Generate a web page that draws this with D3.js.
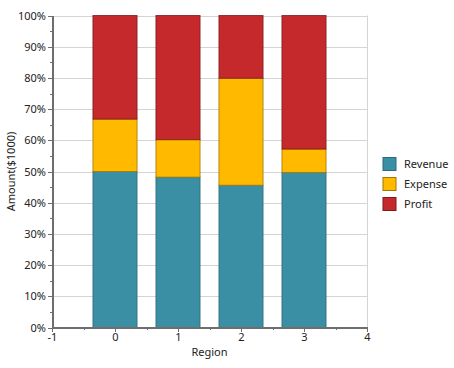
<!DOCTYPE html>
<html>
<head>
<meta charset="utf-8">
<script src="https://cdn.jsdelivr.net/npm/d3@7"></script>
<style>
  body { margin: 0; background: #fff; }
  svg text { font-family: "Noto Sans", "Open Sans", sans-serif; font-size: 11px; fill: #222; }
  .grid line { stroke: #d4d4d4; shape-rendering: crispEdges; }
  .grid path { display: none; }
  .axis path, .axis line { stroke: #6e6e6e; shape-rendering: crispEdges; }
</style>
</head>
<body>
<div id="chart"></div>
<script>
// Regions and series amounts ($1000), shown as percent stacks
var regions = [0, 1, 2, 3];
var seriesNames = ["Revenue", "Expense", "Profit"];
var revenue = [50.0, 48.2, 45.6, 49.7];
var expense = [16.8, 12.0, 34.3, 7.5];
var profit  = [33.2, 39.8, 20.1, 42.8];
var xTicks = [-1, 0, 1, 2, 3, 4];
var yTicks = [0, 0.1, 0.2, 0.3, 0.4, 0.5, 0.6, 0.7, 0.8, 0.9, 1.0];

var fills   = {Revenue: "#3a8fa4", Expense: "#ffba00", Profit: "#c6292c"};
var strokes = {Revenue: "#2c6b7b", Expense: "#a27700", Profit: "#7d1a1c"};

var width = 454, height = 368;
var plotLeft = 52, plotRight = 367, plotTop = 15.5, plotBottom = 327.5;

var svg = d3.select("#chart").append("svg")
    .attr("width", width)
    .attr("height", height);

var x = d3.scaleLinear().domain([-1, 4]).range([plotLeft, plotRight]);
var y = d3.scaleLinear().domain([0, 1]).range([plotBottom, plotTop]);

// build table for stack
var table = regions.map(function (r, i) {
    return {region: r, Revenue: revenue[i], Expense: expense[i], Profit: profit[i]};
});
var stacked = d3.stack().keys(seriesNames).offset(d3.stackOffsetExpand)(table);

// gridlines
svg.append("g")
    .attr("class", "grid")
    .attr("transform", "translate(" + plotLeft + ",0)")
    .call(d3.axisLeft(y).tickValues(yTicks.slice(1)).tickSize(-(plotRight - plotLeft)).tickFormat(""));

svg.append("line")
    .attr("x1", plotRight + 0.5).attr("x2", plotRight + 0.5)
    .attr("y1", plotTop).attr("y2", plotBottom)
    .style("stroke", "#d4d4d4");

// bars
var barW = x(0.35) - x(-0.35);
svg.selectAll(".layer")
    .data(stacked)
    .enter()
    .append("g")
    .attr("class", "layer")
    .attr("fill", function (d) { return fills[d.key]; })
    .attr("stroke", function (d) { return strokes[d.key]; })
    .selectAll("rect")
    .data(function (d) { return d; })
    .enter()
    .append("rect")
    .attr("x", function (d) { return x(d.data.region) - barW / 2; })
    .attr("y", function (d) { return y(d[1]); })
    .attr("width", barW)
    .attr("height", function (d) { return y(d[0]) - y(d[1]); })
    .attr("stroke-width", 1)
    .attr("stroke-opacity", 0.8);

// minor ticks
svg.append("g")
    .attr("class", "axis")
    .attr("transform", "translate(" + plotLeft + ",0)")
    .call(d3.axisLeft(y).tickValues(d3.range(0.05, 1, 0.1)).tickSize(2).tickFormat(""));
svg.append("g")
    .attr("class", "axis")
    .attr("transform", "translate(0," + plotBottom + ")")
    .call(d3.axisBottom(x).tickValues(d3.range(-0.5, 4, 1)).tickSize(2).tickFormat(""));

// y axis
var yAxis = svg.append("g")
    .attr("class", "axis")
    .attr("transform", "translate(" + plotLeft + ",0)")
    .call(d3.axisLeft(y).tickValues(yTicks).tickSize(4).tickSizeOuter(0).tickPadding(2)
        .tickFormat(d3.format(".0%")));
yAxis.select(".domain").style("stroke-width", 2);

// x axis
var xAxis = svg.append("g")
    .attr("class", "axis")
    .attr("transform", "translate(0," + plotBottom + ")")
    .call(d3.axisBottom(x).tickValues(xTicks).tickSize(4).tickSizeOuter(0).tickPadding(2)
        .tickFormat(d3.format("d")));
xAxis.select(".domain").style("stroke-width", 2);
xAxis.selectAll(".tick text").text(function (d) { return d < 0 ? "-1" : d; });

// axis titles
svg.append("text")
    .attr("x", (plotLeft + plotRight) / 2)
    .attr("y", 356)
    .attr("text-anchor", "middle")
    .text("Region");

svg.append("text")
    .attr("transform", "translate(15," + ((plotTop + plotBottom) / 2) + ") rotate(-90)")
    .attr("text-anchor", "middle")
    .text("Amount($1000)");

// legend
var legend = svg.selectAll(".legend")
    .data(seriesNames)
    .enter()
    .append("g")
    .attr("class", "legend")
    .attr("transform", function (d, i) { return "translate(383," + (157.5 + i * 20) + ")"; });

legend.append("rect")
    .attr("width", 13)
    .attr("height", 13)
    .attr("fill", function (d) { return fills[d]; })
    .attr("stroke", function (d) { return strokes[d]; });

legend.append("text")
    .attr("x", 21)
    .attr("y", 7)
    .attr("dy", "0.35em")
    .text(function (d) { return d; });
</script>
</body>
</html>
